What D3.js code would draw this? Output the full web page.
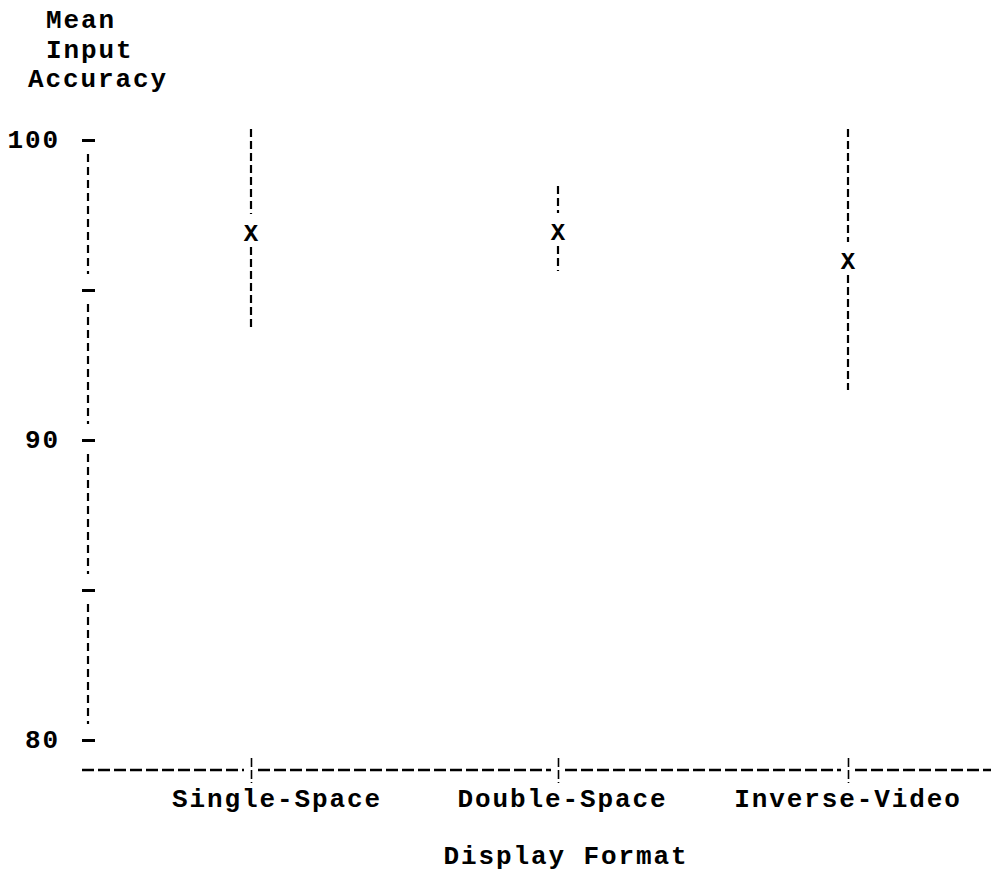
<!DOCTYPE html>
<html><head><meta charset="utf-8">
<script src="https://cdn.jsdelivr.net/npm/d3@7"></script>
<style>body{margin:0;background:#fff}svg{display:block}</style>
</head><body>
<script>
// ---- data ----
const categories = ["Single-Space", "Double-Space", "Inverse-Video"];
const meanValues = [96.9, 96.93, 95.97];
const upperValues = [100.37, 98.47, 100.37];
const lowerValues = [93.63, 95.63, 91.67];
const yTickValues = [80, 85, 90, 95, 100];
const yTickLabels = ["80", "", "90", "", "100"];
const yTitleLines = ["Mean", "Input", "Accuracy"];
const xTitle = "Display Format";

// ---- setup ----
const W = 991, H = 878;
const font = "'Liberation Mono', 'DejaVu Sans Mono', monospace";
const fs = 26, ls = 1.9;
const svg = d3.select("body").append("svg").attr("width", W).attr("height", H);

const y = d3.scaleLinear().domain([80, 100]).range([740, 140]);
const x = d3.scaleOrdinal(categories, [251, 558, 848]);
const xLabel = d3.scalePoint(categories, [276, 847]);
const axisX = 88, axisY = 770;

function txt(g) {
  return g.attr("font-family", font).attr("font-size", fs).attr("font-weight", "bold")
    .attr("letter-spacing", ls).attr("fill", "#000");
}

// ---- y title ----
const yTitleX = [46, 46, 28];
yTitleLines.forEach((t, i) => {
  txt(svg.append("text")).attr("x", yTitleX[i]).attr("y", 28 + i * 29.5).text(t);
});

// ---- y axis ----
const yAxisG = svg.append("g").attr("transform", `translate(${axisX},0)`)
  .call(d3.axisLeft(y).tickValues(yTickValues).tickSize(0).tickPadding(28)
    .tickFormat((d, i) => yTickLabels[i]));
yAxisG.select(".domain").remove();
yAxisG.selectAll(".tick line").attr("x1", -6).attr("x2", 7)
  .attr("stroke", "#000").attr("stroke-width", 3);
yAxisG.selectAll(".tick text").call(txt).attr("font-size", fs).attr("dy", "0.3em");

const ySegs = d3.pairs(yTickValues);
svg.append("g").selectAll("line").data(ySegs).join("line")
  .attr("x1", axisX).attr("x2", axisX)
  .attr("y1", d => y(d[1]) + 14).attr("y2", d => y(d[0]) - 16)
  .attr("stroke", "#000").attr("stroke-width", 2.2).attr("stroke-dasharray", "8,5");

// ---- x axis ----
const xBounds = [82, ...categories.map(c => x(c)), W];
svg.append("g").selectAll("line").data(d3.pairs(xBounds)).join("line")
  .attr("x1", (d, i) => d[0] + (i === 0 ? 0 : 7))
  .attr("x2", (d, i) => d[1] - (i === xBounds.length - 2 ? 0 : 7))
  .attr("y1", axisY).attr("y2", axisY)
  .attr("stroke", "#000").attr("stroke-width", 2.5).attr("stroke-dasharray", "12,4");

const xAxisG = svg.append("g").attr("transform", `translate(0,${axisY})`)
  .call(d3.axisBottom(x).tickSize(0).tickFormat(""));
xAxisG.select(".domain").remove();
xAxisG.selectAll(".tick line").attr("y1", -12).attr("y2", 13)
  .attr("stroke", "#000").attr("stroke-width", 1.6).attr("stroke-dasharray", "9,3");

// x category labels
svg.append("g").selectAll("text").data(categories).join("text")
  .call(txt).attr("text-anchor", "middle")
  .attr("x", d => xLabel(d) + ls / 2).attr("y", 807).text(d => d);

// x title
txt(svg.append("text")).attr("text-anchor", "middle").attr("x", 566).attr("y", 864).text(xTitle);

// ---- whiskers ----
const pts = categories.map((c, i) => ({c, m: meanValues[i], hi: upperValues[i], lo: lowerValues[i]}));
const wg = svg.append("g");
wg.selectAll("line.up").data(pts).join("line").attr("class", "up")
  .attr("x1", d => x(d.c)).attr("x2", d => x(d.c))
  .attr("y1", d => y(d.hi)).attr("y2", d => y(d.m) - 19)
  .attr("stroke", "#000").attr("stroke-width", 2.2).attr("stroke-dasharray", "8,4");
wg.selectAll("line.lo").data(pts).join("line").attr("class", "lo")
  .attr("x1", d => x(d.c)).attr("x2", d => x(d.c))
  .attr("y1", d => y(d.m) + 14).attr("y2", d => y(d.lo))
  .attr("stroke", "#000").attr("stroke-width", 2.2).attr("stroke-dasharray", "8,4");

// mean marks
wg.selectAll("text").data(pts).join("text")
  .attr("font-family", font).attr("font-size", 24).attr("font-weight", "bold")
  .attr("text-anchor", "middle").attr("x", d => x(d.c)).attr("y", d => y(d.m))
  .attr("dy", "0.33em").text("X");
</script>
</body></html>
